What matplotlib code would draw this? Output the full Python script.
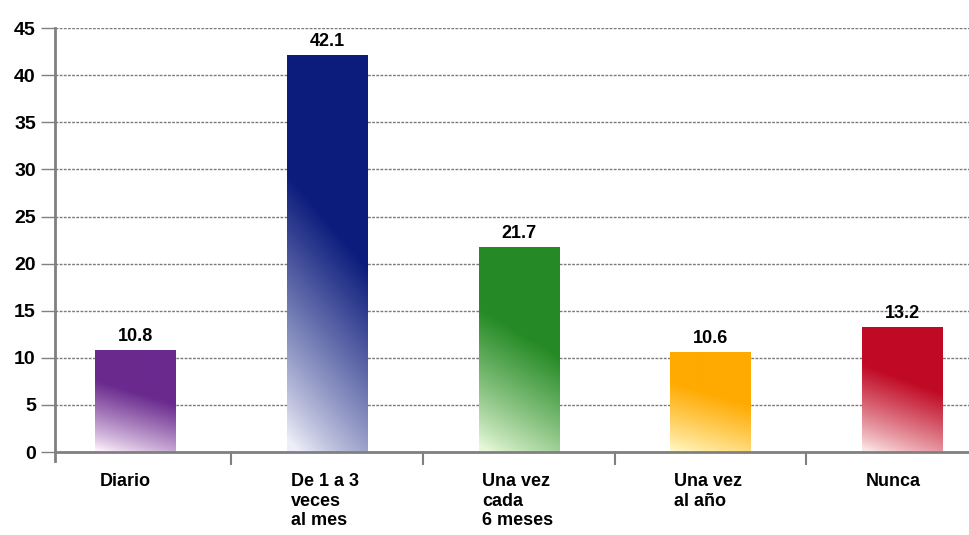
import numpy as np
import matplotlib.pyplot as plt
from matplotlib.colors import to_rgb
from matplotlib.transforms import blended_transform_factory

CATEGORIES = ["Diario", "De 1 a 3\nveces\nal mes", "Una vez\ncada\n6 meses",
              "Una vez\nal año", "Nunca"]
VALUES = [10.8, 42.1, 21.7, 10.6, 13.2]
TOP_COLORS = ["#6a2a8e", "#0c1c7c", "#258a25", "#ffaa00", "#c00a25"]
PALE_COLORS = ["#fbeefa", "#eeeef8", "#e6f8d8", "#fff6c0", "#fbe4e4"]
Y_TICKS = [0, 5, 10, 15, 20, 25, 30, 35, 40, 45]

plt.rcParams["font.family"] = ["Liberation Sans Narrow", "Liberation Sans", "DejaVu Sans"]

BAR_W = 0.42


def gradient_bar(ax, x, h, top, pale):
    # vertical fade from the pale foot to the full colour, a little lighter on the left
    ny, nx = 200, 40
    yy = np.linspace(0, 1, ny)[:, None]
    xx = np.linspace(0, 1, nx)[None, :]
    t = np.clip(1.5 * yy + 0.35 * xx - 0.05, 0, 1) ** 0.85
    c0 = np.array(to_rgb(pale))
    c1 = np.array(to_rgb(top))
    img = c0 + (c1 - c0) * t[..., None]
    ax.imshow(img, origin="lower", aspect="auto", interpolation="bilinear",
              extent=(x - BAR_W / 2, x + BAR_W / 2, 0, h), zorder=2)


fig = plt.figure(figsize=(9.69, 5.35), dpi=100)
ax = fig.add_axes([0.057, 0.155, 0.943, 0.7925])

xs = np.arange(len(VALUES))
for x, v, top, pale in zip(xs, VALUES, TOP_COLORS, PALE_COLORS):
    gradient_bar(ax, x, v, top, pale)
    ax.text(x, v + 0.6, f"{v:.1f}", ha="center", va="bottom",
            fontsize=13, fontweight="bold", zorder=3)

ax.set_xlim(-0.42, 4.35)
ax.set_ylim(0, 45)
ax.set_yticks(Y_TICKS)
ax.set_yticklabels([str(t) for t in Y_TICKS], fontsize=14, fontweight="bold")
ax.yaxis.grid(True, linestyle=(0, (2, 1)), color="#7a7a7a", linewidth=1.0, zorder=1)
ax.set_axisbelow(True)

ax.set_xticks(xs[:-1] + 0.5)
ax.set_xticklabels([])
ax.tick_params(axis="x", length=9, width=1.5, color="#808080")
ax.tick_params(axis="y", length=10, width=1.0, color="#808080", pad=4)

trans = blended_transform_factory(ax.transData, ax.transAxes)
for x, label in zip(xs, CATEGORIES):
    ax.text(x - BAR_W / 2 + 0.02, -0.05, label, transform=trans, ha="left", va="top",
            fontsize=13, fontweight="bold", linespacing=1.2)

for side in ("top", "right"):
    ax.spines[side].set_visible(False)
for side in ("left", "bottom"):
    ax.spines[side].set_color("#808080")
    ax.spines[side].set_linewidth(2)
ax.spines["left"].set_bounds(-1, 45)

fig.savefig("out.png", dpi=100)
